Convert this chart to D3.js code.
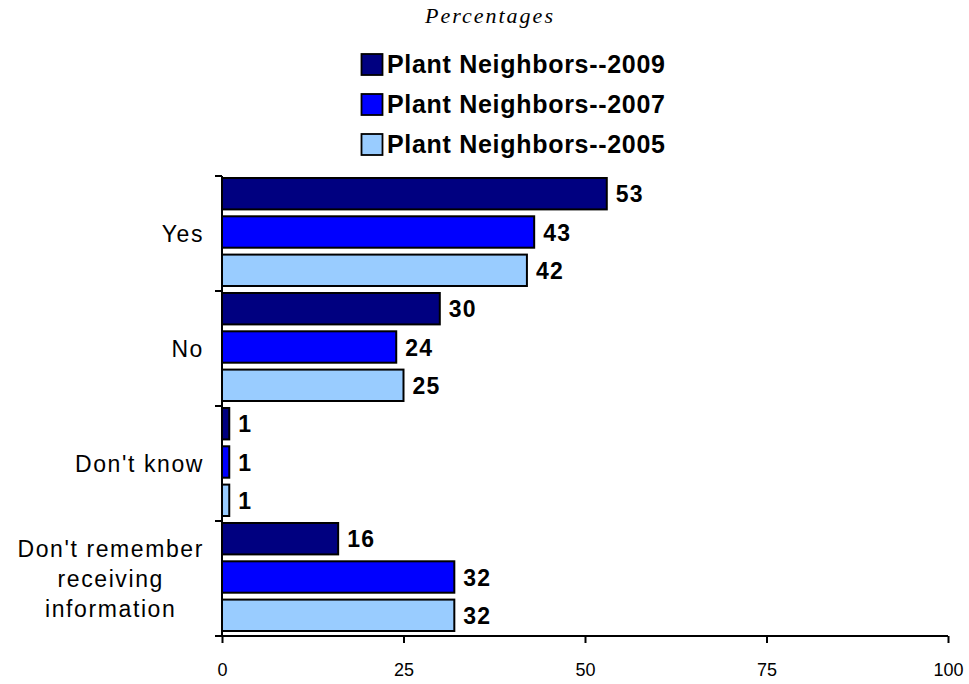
<!DOCTYPE html>
<html><head><meta charset="utf-8">
<script src="https://cdn.jsdelivr.net/npm/d3@7/dist/d3.min.js"></script>
<style>body{margin:0;background:#fff}svg{display:block}text{font-family:"Liberation Sans",Arial,sans-serif}</style>
</head><body><svg id="c" width="969" height="684"></svg>
<script>
const categories = ["Yes", "No", "Don't know", "Don't remember receiving information"];
const categoryLines = [["Yes"], ["No"], ["Don't know"], ["Don't remember", "receiving", "information"]];
const seriesNames = ["Plant Neighbors--2009", "Plant Neighbors--2007", "Plant Neighbors--2005"];
const values2009 = [53, 30, 1, 16];
const values2007 = [43, 24, 1, 32];
const values2005 = [42, 25, 1, 32];
const xTicks = [0, 25, 50, 75, 100];
const colors = ["#000080", "#0000FF", "#99CCFF"];
const seriesValues = [values2009, values2007, values2005];

const svg = d3.select("#c");
const mLeft = 222, mRight = 948, mTop = 176, mBottom = 636;
const x = d3.scaleLinear().domain([0, 100]).range([mLeft, mRight]);
const y = d3.scaleBand().domain(categories).range([mTop, mBottom]);
const inner = d3.scaleBand().domain(seriesNames).range([2, y.bandwidth() - 5]).paddingInner(0.18).paddingOuter(0);

// title
svg.append("text").attr("x", 490).attr("y", 23).attr("text-anchor", "middle")
  .style("font-family", "'Liberation Serif','DejaVu Serif',serif").style("font-style", "italic")
  .style("font-size", "22px").style("letter-spacing", "2px").attr("fill", "#000").text("Percentages");

// legend
const lg = svg.append("g");
seriesNames.forEach((s, i) => {
  const cy = 64.5 + i * 40;
  lg.append("rect").attr("x", 361.5).attr("y", cy - 10.5).attr("width", 21).attr("height", 21)
    .attr("fill", colors[i]).attr("stroke", "#000").attr("stroke-width", 1.8);
  lg.append("text").attr("x", 387).attr("y", cy + 8.5).style("font-size", "25px").style("font-weight", "bold")
    .style("letter-spacing", "0.7px").text(s);
});

// bars
const data = [];
categories.forEach((c, ci) => seriesNames.forEach((s, si) => data.push({c, s, v: seriesValues[si][ci], si})));
svg.append("g").selectAll("rect").data(data).join("rect")
  .attr("x", x(0)).attr("y", d => y(d.c) + inner(d.s))
  .attr("width", d => x(d.v) - x(0)).attr("height", inner.bandwidth())
  .attr("fill", d => colors[d.si]).attr("stroke", "#000").attr("stroke-width", 2);

svg.append("g").selectAll("text").data(data).join("text")
  .attr("x", d => x(d.v) + 9).attr("y", d => y(d.c) + inner(d.s) + inner.bandwidth() / 2 + 8.5)
  .style("font-size", "23px").style("font-weight", "bold").style("letter-spacing", "1.2px").text(d => d.v);

// y axis
const ya = svg.append("g");
ya.append("line").attr("x1", mLeft).attr("x2", mLeft).attr("y1", mTop).attr("y2", mBottom).attr("stroke", "#000").attr("stroke-width", 2);
const bounds = categories.map(c => y(c)).concat([mBottom]);
ya.selectAll(".t").data(bounds).join("line").attr("x1", mLeft - 7).attr("x2", mLeft).attr("y1", d => d).attr("y2", d => d)
  .attr("stroke", "#000").attr("stroke-width", 2);

// category labels
categories.forEach((c, ci) => {
  const lines = categoryLines[ci];
  const cy = y(c) + y.bandwidth() / 2;
  const lh = 30;
  const g = svg.append("g");
  const texts = lines.map((l, li) => g.append("text").attr("y", cy + (li - (lines.length - 1) / 2) * lh + 8.5)
    .style("font-size", "23px").style("letter-spacing", "1.6px").text(l));
  const w = d3.max(texts, t => t.node().getComputedTextLength());
  texts.forEach(t => t.attr("x", 204 - w / 2).attr("text-anchor", "middle"));
});

// x axis
const xa = svg.append("g").attr("transform", `translate(0,${mBottom})`)
  .call(d3.axisBottom(x).tickValues(xTicks).tickSize(7).tickPadding(20).tickFormat(d3.format("d")));
xa.select(".domain").attr("stroke-width", 2).attr("d", `M${mLeft - 7},0H${mRight}`);
xa.selectAll(".tick line").attr("stroke-width", 2);
xa.selectAll(".tick text").style("font-size", "18px").style("font-family", "'Liberation Sans',Arial,sans-serif");
</script></body></html>
